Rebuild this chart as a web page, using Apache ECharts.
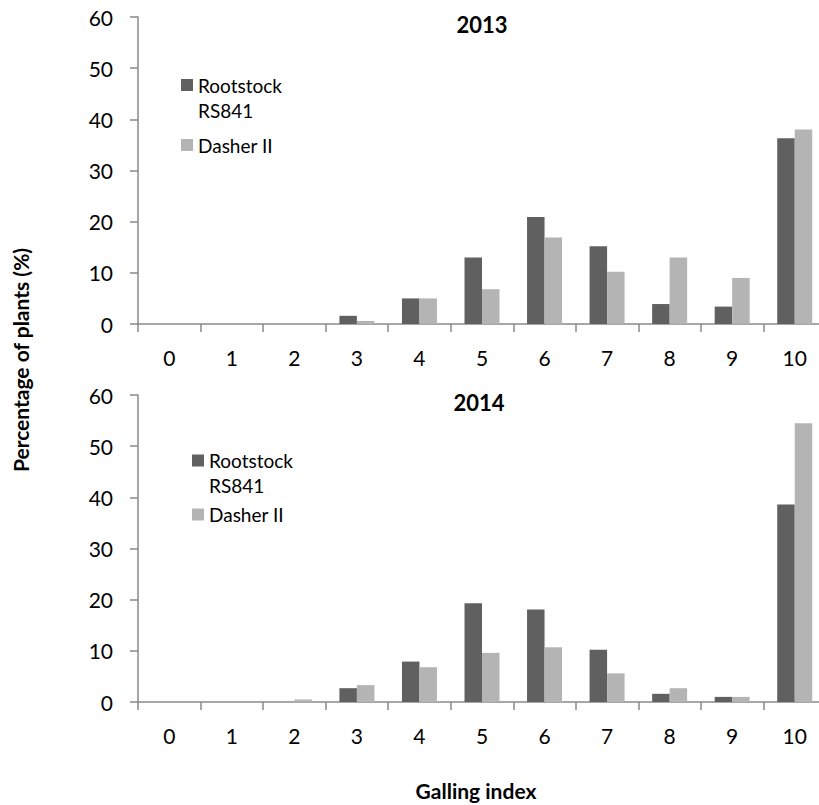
<!DOCTYPE html>
<html>
<head>
<meta charset="utf-8">
<script src="https://cdn.jsdelivr.net/npm/echarts@6/dist/echarts.min.js"></script>
<style>
  html, body { margin: 0; padding: 0; background: #fff; }
  #chart { width: 819px; height: 805px; }
</style>
</head>
<body>
<div id="chart"></div>
<script>
const categories = ['0', '1', '2', '3', '4', '5', '6', '7', '8', '9', '10'];
const seriesNames = ['Rootstock RS841', 'Dasher II'];
const rootstock2013 = [0, 0, 0, 1.6, 5.0, 13.0, 20.9, 15.2, 3.9, 3.4, 36.3];
const dasher2013 = [0, 0, 0, 0.6, 5.0, 6.8, 16.9, 10.2, 13.0, 9.0, 38.0];
const rootstock2014 = [0, 0, 0, 2.7, 7.9, 19.3, 18.1, 10.2, 1.6, 1.0, 38.6];
const dasher2014 = [0, 0, 0.5, 3.3, 6.8, 9.6, 10.7, 5.6, 2.7, 1.0, 54.5];
const yTicks = { min: 0, max: 60, interval: 10 };
const panelTitles = ['2013', '2014'];
const xAxisTitle = 'Galling index';
const yAxisTitle = 'Percentage of plants (%)';

const FONT = 'Lato';
const DARK = '#606060';
const LIGHT = '#b4b4b4';
const AXIS = '#8a8a8a';

const chart = echarts.init(document.getElementById('chart'), null, { renderer: 'svg' });

function xAxisCfg(gridIndex) {
  return {
    type: 'category', gridIndex, data: categories,
    axisLine: { lineStyle: { color: AXIS, width: 1.5 } },
    axisTick: { show: true, length: 8, lineStyle: { color: AXIS, width: 1.5 } },
    axisLabel: { color: '#000', fontFamily: FONT, fontSize: 21, margin: 23 }
  };
}
function yAxisCfg(gridIndex) {
  return {
    type: 'value', gridIndex, min: yTicks.min, max: yTicks.max, interval: yTicks.interval,
    splitLine: { show: false },
    axisLine: { show: true, lineStyle: { color: AXIS, width: 1.5 } },
    axisTick: { show: true, length: 8, lineStyle: { color: AXIS, width: 1.5 } },
    axisLabel: { color: '#000', fontFamily: FONT, fontSize: 21, margin: 25 }
  };
}
function barSeries(name, data, idx, color) {
  return {
    type: 'bar', name, data, xAxisIndex: idx, yAxisIndex: idx,
    barWidth: 17.5, barGap: '0%',
    itemStyle: { color },
    emphasis: { disabled: true }
  };
}
function legendCfg(name, left, top, twoLine) {
  return {
    data: [name],
    left, top, padding: 0, orient: 'vertical',
    icon: 'rect', itemWidth: 12, itemHeight: 12,
    selectedMode: false,
    formatter: twoLine ? () => ' \nRootstock\nRS841' : undefined,
    textStyle: { color: '#000', fontFamily: FONT, fontSize: 19, lineHeight: 25 }
  };
}

chart.setOption({
  animation: false,
  grid: [
    { left: 138, top: 17, width: 688, height: 307, outerBoundsMode: 'none', containLabel: false },
    { left: 138, top: 395, width: 688, height: 307, outerBoundsMode: 'none', containLabel: false }
  ],
  xAxis: [xAxisCfg(0), xAxisCfg(1)],
  yAxis: [yAxisCfg(0), yAxisCfg(1)],
  legend: [
    legendCfg(seriesNames[0], 181, 47.5, true),
    legendCfg(seriesNames[1], 181, 132.5, false),
    legendCfg(seriesNames[0], 192, 423, true),
    legendCfg(seriesNames[1], 192, 502, false)
  ],
  series: [
    barSeries(seriesNames[0], rootstock2013, 0, DARK),
    barSeries(seriesNames[1], dasher2013, 0, LIGHT),
    barSeries(seriesNames[0], rootstock2014, 1, DARK),
    barSeries(seriesNames[1], dasher2014, 1, LIGHT)
  ],
  graphic: [
    { type: 'text', x: 482, y: 24, style: { text: panelTitles[0], fill: '#000', font: 'bold 22px ' + FONT, align: 'center', verticalAlign: 'middle' } },
    { type: 'text', x: 479, y: 402, style: { text: panelTitles[1], fill: '#000', font: 'bold 22px ' + FONT, align: 'center', verticalAlign: 'middle' } },
    { type: 'text', x: 476, y: 790, style: { text: xAxisTitle, fill: '#000', font: 'bold 21px ' + FONT, align: 'center', verticalAlign: 'middle' } },
    { type: 'text', x: 20, y: 360, rotation: Math.PI / 2, style: { text: yAxisTitle, fill: '#000', font: 'bold 21px ' + FONT, align: 'center', verticalAlign: 'middle' } }
  ]
});
</script>
</body>
</html>
